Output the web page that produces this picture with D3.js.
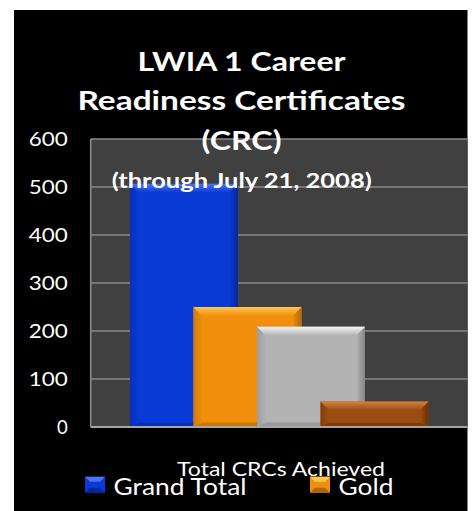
<!DOCTYPE html>
<html><head><meta charset="utf-8">
<script src="https://cdn.jsdelivr.net/npm/d3@7"></script>
<style>html,body{margin:0;padding:0;background:#fff;}svg{display:block;}</style>
</head><body>
<script>
const categories = ["Total CRCs Achieved"];
const seriesNames = ["Grand Total", "Gold", "Silver", "Bronze"];
const seriesValues = [507, 250, 209, 53];
const yTicks = [0, 100, 200, 300, 400, 500, 600];
const legendShown = ["Grand Total", "Gold"];
const titleLines = ["LWIA 1 Career", "Readiness Certificates", "(CRC)"];
const subtitle = "(through July 21, 2008)";

const colors = {
  "Grand Total": {base:"#0a3ad6", light:"#4a74f4", dark:"#06279c"},
  "Gold": {base:"#ef8f0c", light:"#ffc650", dark:"#b0650a"},
  "Silver": {base:"#b3b3b3", light:"#f4f4f4", dark:"#878787"},
  "Bronze": {base:"#9b4d12", light:"#d5843e", dark:"#6a3008"}
};

const W = 473, H = 511;
const svg = d3.select("body").append("svg").attr("width", W).attr("height", H);
const FONT = "Lato, 'Open Sans', sans-serif";

// black chart background
svg.append("rect").attr("x", 14).attr("y", 10).attr("width", 453.5).attr("height", 501).attr("fill", "#000");

const plot = {left: 90.7, right: 467.5, top: 139, bottom: 427};
const y = d3.scaleLinear().domain([0, 600]).range([plot.bottom, plot.top]);
const x = d3.scaleBand().domain(seriesNames).range([130, 428.5]).paddingInner(-0.7).paddingOuter(0);

// plot area
svg.append("rect").attr("x", plot.left).attr("y", plot.top)
  .attr("width", plot.right - plot.left).attr("height", plot.bottom - plot.top).attr("fill", "#404040");

// gridlines
svg.append("g").selectAll("line").data(yTicks.filter(d => d > 0)).join("line")
  .attr("x1", plot.left).attr("x2", plot.right)
  .attr("y1", d => y(d)).attr("y2", d => y(d))
  .attr("stroke", "#8a8a8a").attr("stroke-width", 1.6);
// left border
svg.append("line").attr("x1", plot.left).attr("x2", plot.left).attr("y1", plot.top).attr("y2", plot.bottom)
  .attr("stroke", "#8a8a8a").attr("stroke-width", 1.6);

// y tick labels
const yAxis = d3.axisLeft(y).tickValues(yTicks).tickSize(0).tickPadding(0);
const gy = svg.append("g").attr("transform", "translate(67.7,0)").call(yAxis);
gy.select(".domain").remove();
gy.selectAll("text").attr("fill", "#fff").attr("font-family", FONT).attr("font-size", 18.5)
  .attr("dy", "0.35em").attr("textLength", 39).attr("lengthAdjust", "spacingAndGlyphs");
gy.selectAll("text").filter(d => d === 0).attr("textLength", null);

// gradients
const defs = svg.append("defs");
seriesNames.forEach((s, i) => {
  const c = colors[s];
  const gt = defs.append("linearGradient").attr("id", "top" + i).attr("x1", 0).attr("y1", 0).attr("x2", 0).attr("y2", 1);
  gt.append("stop").attr("offset", 0).attr("stop-color", c.light);
  gt.append("stop").attr("offset", 1).attr("stop-color", c.base);
  const gl = defs.append("linearGradient").attr("id", "left" + i).attr("x1", 0).attr("y1", 0).attr("x2", 1).attr("y2", 0);
  gl.append("stop").attr("offset", 0).attr("stop-color", d3.interpolateRgb(c.base, c.dark)(0.5));
  gl.append("stop").attr("offset", 1).attr("stop-color", c.base);
  const gr = defs.append("linearGradient").attr("id", "right" + i).attr("x1", 0).attr("y1", 0).attr("x2", 1).attr("y2", 0);
  gr.append("stop").attr("offset", 0).attr("stop-color", c.base);
  gr.append("stop").attr("offset", 1).attr("stop-color", c.dark);
});

// bars with bevel
const bars = svg.append("g");
seriesNames.forEach((s, i) => {
  const c = colors[s];
  const x0 = x(s), x1 = x(s) + x.bandwidth();
  const yt = y(seriesValues[i]), yb = y(0);
  const b = Math.min(9, (yb - yt) / 3);
  const g = bars.append("g");
  g.append("rect").attr("x", x0).attr("y", yt).attr("width", x1 - x0).attr("height", yb - yt).attr("fill", c.base);
  g.append("polygon").attr("points", [[x0, yt], [x0 + b, yt + b], [x0 + b, yb - b / 2], [x0, yb]].join(" ")).attr("fill", `url(#left${i})`);
  g.append("polygon").attr("points", [[x1, yt], [x1 - b, yt + b], [x1 - b, yb - b / 2], [x1, yb]].join(" ")).attr("fill", `url(#right${i})`);
  g.append("polygon").attr("points", [[x0, yb], [x0 + b, yb - b / 2], [x1 - b, yb - b / 2], [x1, yb]].join(" ")).attr("fill", c.dark).attr("opacity", 0.6);
  g.append("polygon").attr("points", [[x0, yt], [x1, yt], [x1 - b, yt + b], [x0 + b, yt + b]].join(" ")).attr("fill", `url(#top${i})`);
});

// axis baseline
svg.append("line").attr("x1", plot.left).attr("x2", plot.right).attr("y1", plot.bottom).attr("y2", plot.bottom)
  .attr("stroke", "#a6a6a6").attr("stroke-width", 1.8);

// title
const title = svg.append("g").attr("font-family", FONT).attr("font-weight", "bold").attr("fill", "#fff").attr("text-anchor", "middle");
const titleBase = [70.5, 110, 149.5];
const titleWidths = [208, 328, 80];
titleLines.forEach((t, i) => {
  title.append("text").attr("x", 241.5).attr("y", titleBase[i]).attr("font-size", 27.5)
    .attr("textLength", titleWidths[i]).attr("lengthAdjust", "spacingAndGlyphs").text(t);
});
title.append("text").attr("x", 241.7).attr("y", 188).attr("font-size", 20)
  .attr("textLength", 260).attr("lengthAdjust", "spacingAndGlyphs").text(subtitle);

// category label
svg.append("text").attr("x", 281).attr("y", 476).attr("text-anchor", "middle")
  .attr("font-family", FONT).attr("font-size", 20).attr("fill", "#fff")
  .attr("textLength", 208).attr("lengthAdjust", "spacingAndGlyphs").text(categories[0]);

// legend
const legX = d3.scalePoint().domain(legendShown).range([85, 310]);
const legTextW = {"Grand Total": 133, "Gold": 55};
legendShown.forEach(s => {
  const i = seriesNames.indexOf(s);
  const c = colors[s];
  const lx = legX(s), ly = 476.7, lw = 20, lh = 16, lb = 5;
  const g = svg.append("g");
  g.append("rect").attr("x", lx).attr("y", ly).attr("width", lw).attr("height", lh).attr("fill", c.base);
  g.append("polygon").attr("points", [[lx, ly], [lx + lw, ly], [lx + lw - lb, ly + lb], [lx + lb, ly + lb]].join(" ")).attr("fill", c.light);
  g.append("polygon").attr("points", [[lx, ly + lh], [lx + lw, ly + lh], [lx + lw - lb, ly + lh - lb], [lx + lb, ly + lh - lb]].join(" ")).attr("fill", c.dark);
  g.append("text").attr("x", lx + 28.5).attr("y", 495).attr("font-family", FONT).attr("font-size", 23)
    .attr("fill", "#fff").attr("textLength", legTextW[s]).attr("lengthAdjust", "spacingAndGlyphs").text(s);
});
</script>
</body></html>
